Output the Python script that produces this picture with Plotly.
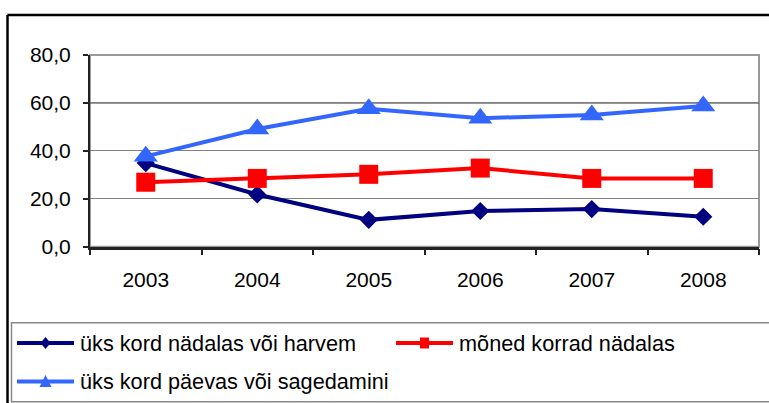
import plotly.graph_objects as go

# Values
years = ["2003", "2004", "2005", "2006", "2007", "2008"]
harvem = [34.9, 21.8, 11.2, 14.9, 15.7, 12.5]  # üks kord nädalas või harvem
monedKorrad = [26.9, 28.5, 30.2, 32.8, 28.5, 28.5]  # mõned korrad nädalas
paevas = [37.7, 49.1, 57.6, 53.6, 55.0, 58.7]  # üks kord päevas või sagedamini

seriesNames = ["üks kord nädalas või harvem", "mõned korrad nädalas", "üks kord päevas või sagedamini"]
seriesValues = [harvem, monedKorrad, paevas]
seriesColors = ["#000080", "#FF0000", "#3366FF"]
seriesSymbols = ["diamond", "square", "triangle-up"]
markerSizes = [14, 19, 21]

W, H = 769, 403  # figure size in pixels
FONT = "Liberation Sans, Arial, sans-serif"


def px(x):  # pixel -> paper x
    return x / W


def py(y):  # pixel -> paper y
    return 1 - y / H


fig = go.Figure()
for name, vals, col, sym, ms in zip(seriesNames, seriesValues, seriesColors, seriesSymbols, markerSizes):
    fig.add_trace(go.Scatter(
        x=years, y=vals, name=name, mode="lines+markers",
        line=dict(color=col, width=4),
        marker=dict(symbol=sym, size=ms, color=col, line=dict(width=0)),
        showlegend=False, cliponaxis=False))

shapes = []
# outer black frame (top and left only visible)
shapes.append(dict(type="line", xref="paper", yref="paper", x0=px(7.5), x1=px(780), y0=py(15), y1=py(15),
                   line=dict(color="black", width=2.5)))
shapes.append(dict(type="line", xref="paper", yref="paper", x0=px(7.5), x1=px(7.5), y0=py(15), y1=py(410),
                   line=dict(color="black", width=2.5)))
# gray plot-area frame
shapes.append(dict(type="rect", xref="x domain", yref="y domain", x0=0, x1=1, y0=0, y1=1,
                   line=dict(color="#999999", width=2), layer="below"))
# darker 60 gridline
shapes.append(dict(type="line", xref="x domain", yref="y", x0=0, x1=1, y0=60, y1=60,
                   line=dict(color="#333333", width=1.3), layer="below"))
# legend box
shapes.append(dict(type="rect", xref="paper", yref="paper", x0=px(11.5), x1=px(790), y0=py(322.7), y1=py(401.7),
                   line=dict(color="#888888", width=1.5)))

# custom legend entries
legendPos = [(17, 343), (396, 343), (17, 381.5)]
annotations = []
for (lx, ly), name, col, sym in zip(legendPos, seriesNames, seriesColors, seriesSymbols):
    shapes.append(dict(type="line", xref="paper", yref="paper", x0=px(lx), x1=px(lx + 57), y0=py(ly), y1=py(ly),
                       line=dict(color=col, width=4)))
    cx = lx + 28.5
    if sym == "diamond":
        pts = [(cx - 5, ly), (cx, ly - 6), (cx + 5, ly), (cx, ly + 6)]
    elif sym == "square":
        pts = [(cx - 4.5, ly - 5.5), (cx + 4.5, ly - 5.5), (cx + 4.5, ly + 5.5), (cx - 4.5, ly + 5.5)]
    else:
        pts = [(cx - 6, ly + 5.5), (cx, ly - 6.5), (cx + 6, ly + 5.5)]
    path = "M" + " L".join("%.5f,%.5f" % (px(a), py(b)) for a, b in pts) + " Z"
    shapes.append(dict(type="path", xref="paper", yref="paper", path=path, fillcolor=col, line=dict(width=0)))
    annotations.append(dict(x=px(lx + 61), y=py(ly), xref="paper", yref="paper", text=name, showarrow=False,
                            xanchor="left", yanchor="middle", font=dict(family=FONT, size=21.7, color="black")))

fig.update_layout(
    width=W, height=H,
    margin=dict(l=0, r=0, t=0, b=0),
    paper_bgcolor="white", plot_bgcolor="white",
    separators=", ",
    font=dict(family=FONT, size=21, color="black"),
    shapes=shapes, annotations=annotations,
    xaxis=dict(domain=[px(90), px(759)], type="category", range=[-0.5, 5.5], tickson="boundaries",
               ticks="outside", ticklen=6, tickcolor="#222", tickwidth=1.5,
               showline=True, linecolor="#222", linewidth=2.5, showgrid=False,
               ticklabelstandoff=12, automargin=False, fixedrange=True),
    yaxis=dict(domain=[py(246.7), py(55)], range=[0, 80], dtick=20, tickformat=".1f",
               ticks="outside", ticklen=5, tickcolor="#222", tickwidth=1.5,
               showline=True, linecolor="#222", linewidth=2, showgrid=True, gridcolor="#808080", gridwidth=1.3,
               zeroline=False, ticklabelstandoff=8, automargin=False, fixedrange=True),
)

fig.write_html("out.html", config={"displayModeBar": False},
               post_script="document.body.style.margin='0';document.body.style.overflow='hidden';")
